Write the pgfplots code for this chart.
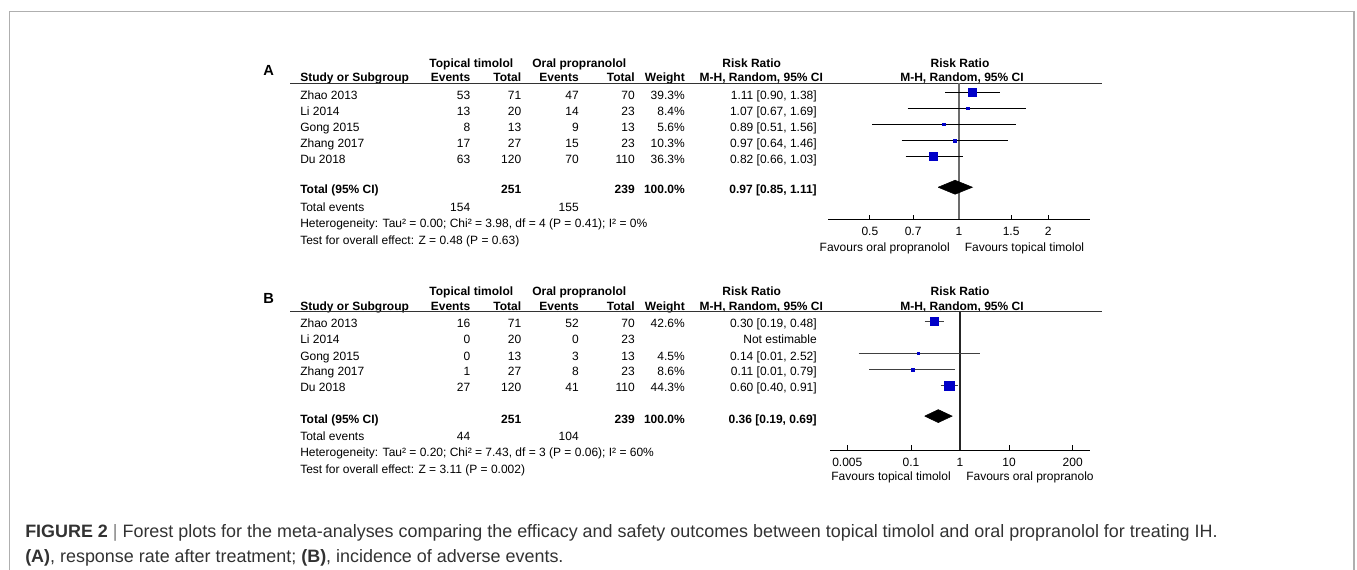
\documentclass[border=0pt]{standalone}
\usepackage{pgfplots}
\pgfplotsset{compat=1.18}
\usepackage{fontspec}
\setmainfont{Liberation Sans}
\definecolor{sqblue}{RGB}{0,0,200}
\definecolor{framegray}{RGB}{175,175,175}
\definecolor{capgray}{RGB}{50,50,50}
\newcommand\fs{\fontsize{9}{11}\selectfont}
\tikzset{t/.style={font=\fs, inner sep=0pt},
  tb/.style={font=\fs\bfseries, inner sep=0pt}}
% study row: y-baseline, name, e1, t1, e2, t2, weight, RR
\newcommand\srow[8]{%
  \node[t,anchor=base west] at (300,#1) {#2};
  \node[t,anchor=base east] at (470.5,#1) {#3};
  \node[t,anchor=base east] at (521.5,#1) {#4};
  \node[t,anchor=base east] at (579,#1) {#5};
  \node[t,anchor=base east] at (635,#1) {#6};
  \node[t,anchor=base east] at (685,#1) {#7};
  \node[t,anchor=base east] at (817,#1) {#8};}
\newcommand\header{%
  \node[tb,anchor=base] at (471.3,67.5) {Topical timolol};
  \node[tb,anchor=base] at (579.3,67.5) {Oral propranolol};
  \node[tb,anchor=base] at (751.7,67.5) {Risk Ratio};
  \node[tb,anchor=base] at (960,67.5) {Risk Ratio};
  \node[tb,anchor=base west] at (300,82) {Study or Subgroup};
  \node[tb,anchor=base east] at (470.5,82) {Events};
  \node[tb,anchor=base east] at (521.5,82) {Total};
  \node[tb,anchor=base east] at (579,82) {Events};
  \node[tb,anchor=base east] at (635,82) {Total};
  \node[tb,anchor=base east] at (685,82) {Weight};
  \node[tb,anchor=base] at (761.3,82) {M-H, Random, 95\% CI};
  \node[tb,anchor=base] at (962,82) {M-H, Random, 95\% CI};
  \draw[line width=0.7pt, black!80] (290,83.3) -- (1102,83.3);}
\begin{document}
\begin{tikzpicture}
\begin{scope}[x=0.75pt,y=-0.75pt]
\useasboundingbox (0,0) rectangle (1357,570);
\draw[framegray, line width=1.1pt] (9.5,570) -- (9.5,11.5) -- (1354,11.5) -- (1354,570);

% ---------------- Panel A text ----------------
\node[anchor=base west, inner sep=0pt, font=\fontsize{11}{13}\selectfont\bfseries] at (263,76) {A};
\header
\srow{99.3}{Zhao 2013}{53}{71}{47}{70}{39.3\%}{1.11 [0.90, 1.38]}
\srow{115.5}{Li 2014}{13}{20}{14}{23}{8.4\%}{1.07 [0.67, 1.69]}
\srow{131.5}{Gong 2015}{8}{13}{9}{13}{5.6\%}{0.89 [0.51, 1.56]}
\srow{147.5}{Zhang 2017}{17}{27}{15}{23}{10.3\%}{0.97 [0.64, 1.46]}
\srow{163.5}{Du 2018}{63}{120}{70}{110}{36.3\%}{0.82 [0.66, 1.03]}
\node[tb,anchor=base west] at (300,194) {Total (95\% CI)};
\node[tb,anchor=base east] at (521.5,194) {251};
\node[tb,anchor=base east] at (635,194) {239};
\node[tb,anchor=base east] at (685,194) {100.0\%};
\node[tb,anchor=base east] at (817,194) {0.97 [0.85, 1.11]};
\node[t,anchor=base west] at (300,211.5) {Total events};
\node[t,anchor=base east] at (470.5,211.5) {154};
\node[t,anchor=base east] at (579,211.5) {155};
\node[t,anchor=base west] at (300,227.5) {Heterogeneity: Tau² = 0.00; Chi² = 3.98, df = 4 (P = 0.41); I² = 0\%};
\node[t,anchor=base west] at (300,244.5) {Test for overall effect: Z = 0.48 (P = 0.63)};
\node[t,anchor=base east] at (950,251.2) {Favours oral propranolol};
\node[t,anchor=base west] at (964.5,251.2) {Favours topical timolol};

% ---------------- Panel B text ----------------
\begin{scope}[shift={(0,228.5)}]
\node[anchor=base west, inner sep=0pt, font=\fontsize{11}{13}\selectfont\bfseries] at (263,75) {B};
\header
\srow{99.3}{Zhao 2013}{16}{71}{52}{70}{42.6\%}{0.30 [0.19, 0.48]}
\srow{115.5}{Li 2014}{0}{20}{0}{23}{}{Not estimable}
\srow{131.5}{Gong 2015}{0}{13}{3}{13}{4.5\%}{0.14 [0.01, 2.52]}
\srow{147.5}{Zhang 2017}{1}{27}{8}{23}{8.6\%}{0.11 [0.01, 0.79]}
\srow{163.5}{Du 2018}{27}{120}{41}{110}{44.3\%}{0.60 [0.40, 0.91]}
\node[tb,anchor=base west] at (300,195) {Total (95\% CI)};
\node[tb,anchor=base east] at (521.5,195) {251};
\node[tb,anchor=base east] at (635,195) {239};
\node[tb,anchor=base east] at (685,195) {100.0\%};
\node[tb,anchor=base east] at (817,195) {0.36 [0.19, 0.69]};
\node[t,anchor=base west] at (300,212) {Total events};
\node[t,anchor=base east] at (470.5,212) {44};
\node[t,anchor=base east] at (579,212) {104};
\node[t,anchor=base west] at (300,228) {Heterogeneity: Tau² = 0.20; Chi² = 7.43, df = 3 (P = 0.06); I² = 60\%};
\node[t,anchor=base west] at (300,244.5) {Test for overall effect: Z = 3.11 (P = 0.002)};
\node[t,anchor=base east] at (951,251.5) {Favours topical timolol};
\node[t,anchor=base west] at (966,251.5) {Favours oral propranolo};
\end{scope}

% ---------------- Caption ----------------
\node[anchor=base west, inner sep=0pt, font=\fontsize{13.45}{16}\selectfont, text=capgray] at (25,537)
  {\textbf{FIGURE 2} {\color{gray}|} Forest plots for the meta-analyses comparing the efficacy and safety outcomes between topical timolol and oral propranolol for treating IH.};
\node[anchor=base west, inner sep=0pt, font=\fontsize{13.45}{16}\selectfont, text=capgray] at (25,562)
  {\textbf{(A)}, response rate after treatment; \textbf{(B)}, incidence of adverse events.};
\end{scope}

% ---------------- Panel A plot ----------------
\begin{axis}[xmode=log, scale only axis,
  axis x line*=bottom, axis y line=none,
  axis line style={-, black, line width=0.6pt},
  ytick=\empty, minor xtick={},
  tick align=inside, major tick length=3.5pt,
  tick style={black, line width=0.6pt},
  xticklabel style={font=\fs, anchor=base, inner sep=0pt, yshift=-12.5pt},
  clip=false,
  at={(621pt,-164.475pt)}, anchor=south west,
  width=196.5pt, height=102.2pt,
  xmin=0.361, xmax=2.77, ymin=-219.3, ymax=-83.3,
  xtick={0.5,0.7,1,1.5,2}, xticklabels={0.5,0.7,1,1.5,2}]
\addplot[gray!85!black, line width=1.3pt] coordinates {(1,-83.3) (1,-219.3)};
\addplot[black, line width=0.6pt] coordinates {(0.90,-92.5) (1.38,-92.5)};
\addplot[black, line width=0.6pt] coordinates {(0.67,-108.5) (1.69,-108.5)};
\addplot[black, line width=0.6pt] coordinates {(0.51,-124.5) (1.56,-124.5)};
\addplot[black, line width=0.6pt] coordinates {(0.64,-140.5) (1.46,-140.5)};
\addplot[black, line width=0.6pt] coordinates {(0.66,-156.5) (1.03,-156.5)};
\addplot[only marks, mark=square*, sqblue, mark size=3pt] coordinates {(1.11,-92.5)};
\addplot[only marks, mark=square*, sqblue, mark size=1.1pt] coordinates {(1.07,-108.5)};
\addplot[only marks, mark=square*, sqblue, mark size=0.95pt] coordinates {(0.89,-124.5)};
\addplot[only marks, mark=square*, sqblue, mark size=1.15pt] coordinates {(0.97,-140.5)};
\addplot[only marks, mark=square*, sqblue, mark size=2.9pt] coordinates {(0.82,-156.5)};
\addplot[fill=black, draw=black] coordinates {(0.85,-187.3) (0.97,-180.3) (1.11,-187.3) (0.97,-194.3) (0.85,-187.3)};
\end{axis}

% ---------------- Panel B plot ----------------
\begin{axis}[xmode=log, scale only axis,
  axis x line*=bottom, axis y line=none,
  axis line style={-, black, line width=0.6pt},
  ytick=\empty, minor xtick={},
  tick align=inside, major tick length=3.5pt,
  tick style={black, line width=0.6pt},
  xticklabel style={font=\fs, anchor=base, inner sep=0pt, yshift=-12.5pt},
  clip=false,
  at={(622.5pt,-337.5pt)}, anchor=south west,
  width=195pt, height=103.35pt,
  xmin=0.00222, xmax=450, ymin=-450, ymax=-311.8,
  xtick={0.005,0.1,1,10,200}, xticklabels={0.005,0.1,1,10,200}]
\addplot[black!85, line width=0.9pt] coordinates {(1,-311.8) (1,-450)};
\addplot[black!75, line width=0.6pt] coordinates {(0.19,-320.7) (0.48,-320.7)};
\addplot[black!75, line width=0.6pt] coordinates {(0.0085,-352.7) (2.52,-352.7)};
\addplot[black!75, line width=0.6pt] coordinates {(0.014,-369.3) (0.79,-369.3)};
\addplot[black!75, line width=0.6pt] coordinates {(0.40,-385.3) (0.91,-385.3)};
\addplot[only marks, mark=square*, sqblue, mark size=3.2pt] coordinates {(0.30,-320.7)};
\addplot[only marks, mark=square*, sqblue, mark size=0.85pt] coordinates {(0.14,-352.7)};
\addplot[only marks, mark=square*, sqblue, mark size=1.1pt] coordinates {(0.11,-369.3)};
\addplot[only marks, mark=square*, sqblue, mark size=3.5pt] coordinates {(0.60,-385.3)};
\addplot[fill=black, draw=black] coordinates {(0.19,-416) (0.36,-409.5) (0.69,-416) (0.36,-422.5) (0.19,-416)};
\end{axis}
\end{tikzpicture}
\end{document}
